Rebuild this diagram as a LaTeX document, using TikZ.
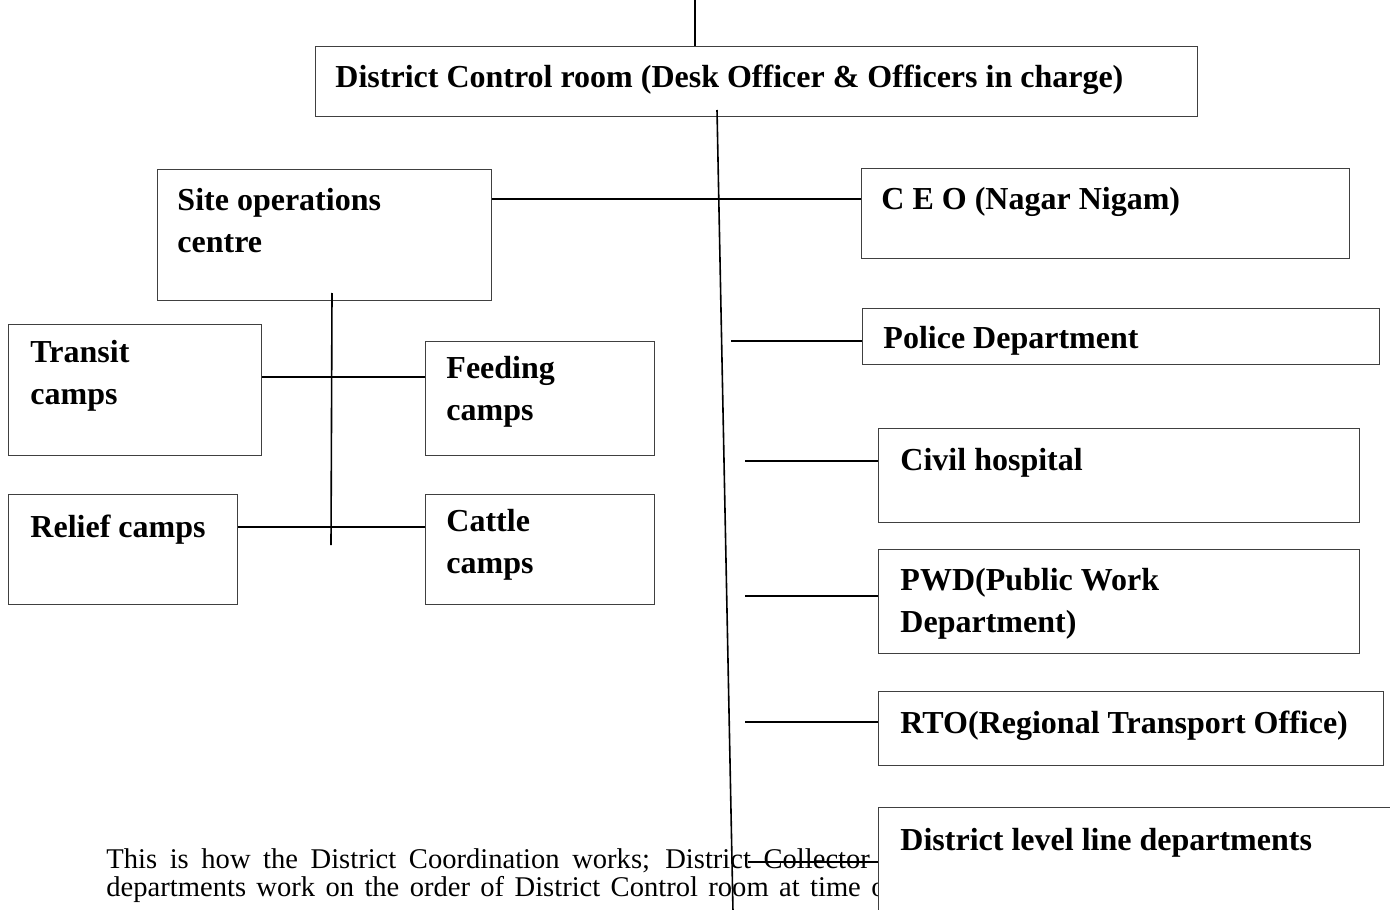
\documentclass[tikz,border=0pt]{standalone}
\usepackage{fontspec}
\setmainfont{Liberation Serif}
\usepackage{xcolor}
\definecolor{framegray}{RGB}{64, 64, 64}

\tikzset{
  panel/.style 2 args={draw=framegray, line width=0.6pt, fill=white, rectangle,
    inner sep=0pt, anchor=north west, minimum width=#1*0.4375pt, minimum height=#2*0.4375pt},
  lbl/.style={font=\bfseries\fontsize{14}{18}\selectfont, inner sep=0pt, anchor=base west, align=left},
  body/.style={font=\fontsize{12.5}{14}\selectfont, inner sep=0pt, anchor=base west},
  link/.style={line width=0.7pt, black}
}

\begin{document}
\begin{tikzpicture}[x=0.4375pt, y=-0.4375pt]
    \useasboundingbox (0,0) rectangle (1390,909);

    % running text under the chart
    \node[body] (note1) at (106,868) {\makebox[334pt][s]{This is how the District Coordination works; District Collector}};
    \node[body] (note2) at (106,896) {\makebox[345pt][s]{departments work on the order of District Control room at time of}};

    % District control room
    \node[panel={882}{70}] (dcr) at (315,46) {};
    \node[lbl] (dcrtxt) at ([shift={(20,42)}]dcr.north west) {District Control room (Desk Officer \& Officers in charge)};

    % Site operations side (two-line labels sit on their last line)
    \node[panel={334}{131}] (site) at (157,169) {};
    \node[lbl] (sitetxt) at ([shift={(20,83)}]site.north west) {Site operations\\centre};
    \node[panel={253}{131}] (transit) at (8,324) {};
    \node[lbl] (transittxt) at ([shift={(22,80)}]transit.north west) {Transit\\camps};
    \node[panel={229}{114}] (feeding) at (425,341) {};
    \node[lbl] (feedingtxt) at ([shift={(21,79)}]feeding.north west) {Feeding\\camps};
    \node[panel={229}{110}] (relief) at (8,494) {};
    \node[lbl] (relieftxt) at ([shift={(22,43)}]relief.north west) {Relief camps};
    \node[panel={229}{110}] (cattle) at (425,494) {};
    \node[lbl] (cattletxt) at ([shift={(21,79)}]cattle.north west) {Cattle\\camps};

    % Departments
    \node[panel={488}{90}] (ceo) at (861,168) {};
    \node[lbl] (ceotxt) at ([shift={(20,42)}]ceo.north west) {C E O (Nagar Nigam)};
    \node[panel={517}{56}] (police) at (862,308) {};
    \node[lbl] (policetxt) at ([shift={(21,40)}]police.north west) {Police Department};
    \node[panel={481}{94}] (civil) at (878,428) {};
    \node[lbl] (civiltxt) at ([shift={(22,42)}]civil.north west) {Civil hospital};
    \node[panel={481}{104}] (pwd) at (878,549) {};
    \node[lbl] (pwdtxt) at ([shift={(22,83)}]pwd.north west) {PWD(Public Work\\Department)};
    \node[panel={505}{74}] (rto) at (878,691) {};
    \node[lbl] (rtotxt) at ([shift={(22,42)}]rto.north west) {RTO(Regional Transport Office)};
    \node[panel={560}{160}] (dist) at (878,807) {};
    \node[lbl] (disttxt) at ([shift={(22,43)}]dist.north west) {District level line departments};

    % trunk lines
    \coordinate (feed) at (695,0);
    \draw[link] (feed) -- (feed |- dcr.north);
    \coordinate (trunkA) at (717,110);
    \coordinate (trunkB) at (733,912);
    \draw[link] (trunkA) -- (trunkB);
    \coordinate (sc) at (491,199);
    \draw[link] (sc -| site.east) -- (sc -| ceo.west);

    % branches to the departments
    \foreach \dept/\sx/\sy in {police/731/341, civil/745/461, pwd/745/596, rto/745/722, dist/748/862}{
        \coordinate (stub) at (\sx,\sy);
        \draw[link] (stub) -- (stub -| \dept.west);
    }

    % camps
    \coordinate (siteA) at (332,293);
    \coordinate (siteB) at (331,545);
    \draw[link] (siteA) -- (siteB);
    \coordinate (tf) at (300,377);
    \draw[link] (tf -| transit.east) -- (tf -| feeding.west);
    \coordinate (rc) at (300,527);
    \draw[link] (rc -| relief.east) -- (rc -| cattle.west);
\end{tikzpicture}
\end{document}
